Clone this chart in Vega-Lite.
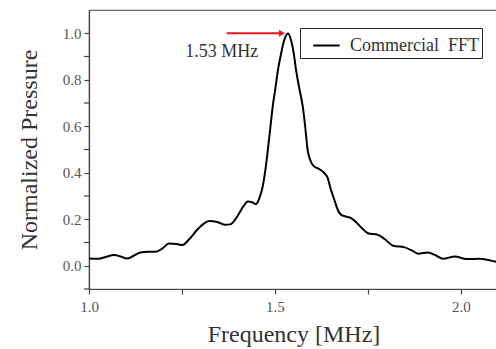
{
  "$schema": "https://vega.github.io/schema/vega-lite/v6.json",
  "autosize": "none",
  "padding": {"left": 89, "top": 10, "right": 0, "bottom": 60},
  "width": 409,
  "height": 279,
  "config": {
    "view": {"stroke": "#666", "strokeWidth": 1.2},
    "axis": {
      "grid": false,
      "domainColor": "#444",
      "tickColor": "#444",
      "domainWidth": 1.2,
      "tickWidth": 1.2,
      "tickSize": 5,
      "labelFont": "Liberation Serif",
      "labelFontSize": 15,
      "labelColor": "#555",
      "titleFont": "Liberation Serif",
      "titleFontSize": 24,
      "titleFontWeight": "normal",
      "titleColor": "#333"
    }
  },
  "layer": [
    {
      "data": {
        "values": [
          {"f": 1.000, "p": 0.031}, {"f": 1.026, "p": 0.030}, {"f": 1.045, "p": 0.038}, {"f": 1.067, "p": 0.046},
          {"f": 1.085, "p": 0.040}, {"f": 1.102, "p": 0.031}, {"f": 1.120, "p": 0.043}, {"f": 1.138, "p": 0.057},
          {"f": 1.160, "p": 0.060}, {"f": 1.179, "p": 0.060}, {"f": 1.198, "p": 0.075}, {"f": 1.215, "p": 0.096},
          {"f": 1.235, "p": 0.094}, {"f": 1.251, "p": 0.089}, {"f": 1.270, "p": 0.115}, {"f": 1.291, "p": 0.155},
          {"f": 1.308, "p": 0.180}, {"f": 1.323, "p": 0.192}, {"f": 1.345, "p": 0.188}, {"f": 1.367, "p": 0.176},
          {"f": 1.380, "p": 0.178}, {"f": 1.400, "p": 0.215}, {"f": 1.415, "p": 0.255}, {"f": 1.427, "p": 0.276},
          {"f": 1.440, "p": 0.272}, {"f": 1.449, "p": 0.265}, {"f": 1.458, "p": 0.290}, {"f": 1.467, "p": 0.340},
          {"f": 1.475, "p": 0.420}, {"f": 1.481, "p": 0.498}, {"f": 1.490, "p": 0.627}, {"f": 1.494, "p": 0.684},
          {"f": 1.501, "p": 0.760}, {"f": 1.508, "p": 0.840}, {"f": 1.515, "p": 0.900}, {"f": 1.525, "p": 0.970},
          {"f": 1.535, "p": 0.999}, {"f": 1.545, "p": 0.960}, {"f": 1.551, "p": 0.910}, {"f": 1.557, "p": 0.840},
          {"f": 1.566, "p": 0.760}, {"f": 1.575, "p": 0.684}, {"f": 1.582, "p": 0.590}, {"f": 1.588, "p": 0.498},
          {"f": 1.595, "p": 0.455}, {"f": 1.602, "p": 0.433}, {"f": 1.620, "p": 0.415}, {"f": 1.632, "p": 0.400},
          {"f": 1.642, "p": 0.378}, {"f": 1.650, "p": 0.330}, {"f": 1.660, "p": 0.283}, {"f": 1.668, "p": 0.245},
          {"f": 1.678, "p": 0.219}, {"f": 1.690, "p": 0.212}, {"f": 1.705, "p": 0.205}, {"f": 1.720, "p": 0.185},
          {"f": 1.735, "p": 0.160}, {"f": 1.750, "p": 0.140}, {"f": 1.777, "p": 0.133}, {"f": 1.795, "p": 0.115},
          {"f": 1.818, "p": 0.086}, {"f": 1.849, "p": 0.079}, {"f": 1.868, "p": 0.066}, {"f": 1.885, "p": 0.052},
          {"f": 1.912, "p": 0.057}, {"f": 1.932, "p": 0.045}, {"f": 1.952, "p": 0.030}, {"f": 1.984, "p": 0.040},
          {"f": 2.015, "p": 0.029}, {"f": 2.051, "p": 0.030}, {"f": 2.070, "p": 0.026}, {"f": 2.092, "p": 0.018},
          {"f": 2.100, "p": 0.016}
        ]
      },
      "mark": {"type": "line", "strokeWidth": 2, "interpolate": "monotone", "clip": true},
      "encoding": {
        "x": {
          "field": "f", "type": "quantitative",
          "scale": {"domain": [1.0, 2.1], "nice": false, "zero": false},
          "axis": {
            "title": "Frequency [MHz]",
            "values": [1.0, 1.25, 1.5, 1.75, 2.0],
            "format": ".1f",
            "labelExpr": "indexof(['1.0','1.5','2.0'], datum.label) >= 0 ? datum.label : ''",
            "labelOverlap": false,
            "labelFlush": false,
            "labelPadding": 5,
            "titlePadding": 8
          }
        },
        "y": {
          "field": "p", "type": "quantitative",
          "scale": {"domain": [-0.1, 1.1], "nice": false, "zero": false},
          "axis": {
            "title": "Normalized Pressure",
            "values": [0, 0.2, 0.4, 0.6, 0.8, 1.0],
            "format": ".1f",
            "labelOverlap": false,
            "labelFlush": false,
            "labelPadding": 3,
            "titlePadding": 21
          }
        },
        "color": {
          "datum": "Commercial\u00a0 FFT",
          "type": "nominal",
          "scale": {"range": ["black"]},
          "legend": {
            "title": null,
            "orient": "none",
            "legendX": 211,
            "legendY": 18,
            "strokeColor": "#222",
            "padding": 3,
            "symbolOffset": 9,
            "labelOffset": 9,
            "symbolType": "stroke",
            "symbolStrokeWidth": 2,
            "symbolSize": 700,
            "labelFont": "Liberation Serif",
            "labelFontSize": 18,
            "labelColor": "#333"
          }
        }
      }
    },
    {
      "data": {"values": [{"v": -0.1}, {"v": 0.1}, {"v": 0.3}, {"v": 0.5}, {"v": 0.7}, {"v": 0.9}]},
      "mark": {"type": "rule", "color": "#444", "strokeWidth": 1.2},
      "encoding": {
        "x": {"datum": 0.9865, "type": "quantitative"},
        "x2": {"datum": 1.0},
        "y": {"field": "v", "type": "quantitative"}
      }
    },
    {
      "data": {"values": [{"x1": 1.37, "x2": 1.52, "y": 1.0}]},
      "mark": {"type": "rule", "color": "#e8191e", "strokeWidth": 2},
      "encoding": {
        "x": {"field": "x1", "type": "quantitative"},
        "x2": {"field": "x2"},
        "y": {"field": "y", "type": "quantitative"}
      }
    },
    {
      "data": {"values": [{"x": 1.519, "y": 1.0}]},
      "mark": {"type": "point", "shape": "triangle-right", "filled": true, "color": "#e8191e", "size": 50, "opacity": 1},
      "encoding": {
        "x": {"field": "x", "type": "quantitative"},
        "y": {"field": "y", "type": "quantitative"}
      }
    },
    {
      "data": {"values": [{"x": 1.357, "y": 0.897, "label": "1.53 MHz"}]},
      "mark": {"type": "text", "font": "Liberation Serif", "fontSize": 18, "color": "#333", "align": "center", "baseline": "alphabetic"},
      "encoding": {
        "x": {"field": "x", "type": "quantitative"},
        "y": {"field": "y", "type": "quantitative"},
        "text": {"field": "label"}
      }
    }
  ]
}
